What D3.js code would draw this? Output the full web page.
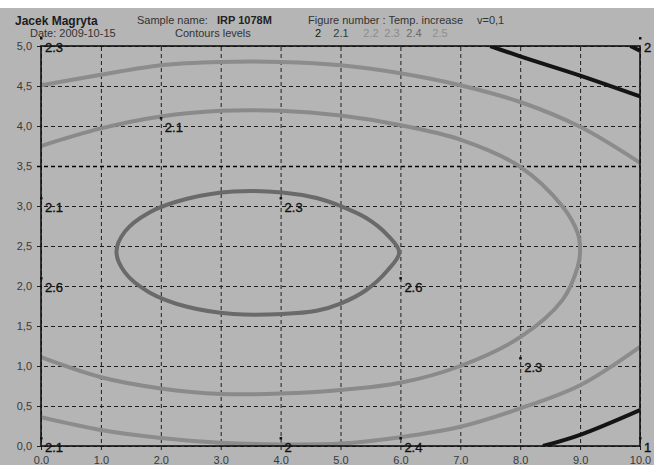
<!DOCTYPE html>
<html>
<head>
<meta charset="utf-8">
<script src="https://cdn.jsdelivr.net/npm/d3@7"></script>
<style>
  html, body { margin: 0; padding: 0; background: #b5b5b5; }
  svg { display: block; font-family: "Liberation Sans", Arial, sans-serif; }
</style>
</head>
<body>
<svg id="chart" width="654" height="465"></svg>
<script>
// ---- Data ----------------------------------------------------------------
const xTicks = [0, 1, 2, 3, 4, 5, 6, 7, 8, 9, 10];
const yTicks = [0, 0.5, 1, 1.5, 2, 2.5, 3, 3.5, 4, 4.5, 5];

const contourLevels = [2, 2.1, 2.2, 2.3, 2.4, 2.5];
const levelColors   = ["#141414", "#3a3a3a", "#8c8c8c", "#8a8a8a", "#6a6a6a", "#8e8e8e"];

// contour pieces: level + [x, y] points
const outerTop = [[0,4.51],[1,4.64],[2,4.76],[3,4.8],[4,4.8],[5,4.76],[6,4.66],[7,4.51],[8,4.3],[9,3.99],[10,3.54]];
const outerBottom = [[0,0.36],[1,0.2],[2,0.1],[3,0.04],[4,0.02],[5,0.03],[6,0.11],[7,0.24],[8,0.47],[9,0.76],[10,1.24]];
const middleRing = [[0,3.75],[1,3.97],[2,4.12],[3,4.19],[4,4.19],[5,4.13],[6,4.01],[7,3.83],[8,3.49],[8.71,2.99],[8.96,2.66],[9.0,2.45],
                    [8.96,2.24],[8.71,1.83],[8,1.36],[7,1.0],[6,0.79],[5,0.7],[4,0.655],[3,0.65],[2,0.72],[1,0.86],[0,1.11]];
const innerRing = [[1.26,2.43],[1.40,2.68],[1.81,2.92],[2.44,3.09],[3.21,3.18],[4.03,3.17],[4.6,3.1],[5.0,3.0],[5.43,2.85],[5.78,2.64],[5.98,2.42],
                   [5.78,2.19],[5.43,1.95],[5.0,1.78],[4.6,1.69],[4.03,1.65],[3.21,1.65],[2.44,1.74],[1.81,1.92],[1.40,2.17]];
const blackTop = [[7.5,5.0],[8.0,4.87],[9.0,4.63],[10,4.37]];
const blackCorner = [[9.84,5.0],[10,4.94]];
const blackBottom = [[8.38,0],[9.0,0.14],[10,0.45]];

const contourPieces = [
  { level: 2.2, points: outerTop,    closed: false },
  { level: 2.2, points: outerBottom, closed: false },
  { level: 2.3, points: middleRing,  closed: false },
  { level: 2.4, points: innerRing,   closed: true  },
  { level: 2,   points: blackTop,    closed: false },
  { level: 2,   points: blackCorner, closed: false },
  { level: 2,   points: blackBottom, closed: false }
];

// value markers: position + text
const markerX    = [0, 2, 0, 0, 4, 6, 8, 6, 4, 0, 10, 10];
const markerY    = [5.1, 4.1, 3.1, 2.1, 3.1, 2.1, 1.1, 0.1, 0.1, 0.1, 0.1, 5.1];
const markerText = ["2.3", "2.1", "2.1", "2.6", "2.3", "2.6", "2.3", "2.4", "2", "2.1", "1", "2"];

// ---- Layout --------------------------------------------------------------
const svg = d3.select("#chart");
const W = 654, H = 465;
const x = d3.scaleLinear().domain([0, 10]).range([41, 640]);
const y = d3.scaleLinear().domain([0, 5]).range([446, 46]);

svg.append("rect").attr("width", W).attr("height", H).attr("fill", "#b5b5b5");
svg.append("rect").attr("width", W).attr("height", 8).attr("fill", "#ffffff");

// ---- Header --------------------------------------------------------------
const hdr = svg.append("g").attr("font-size", 11).attr("fill", "#333");
hdr.append("text").attr("x", 15).attr("y", 25).attr("font-weight", "bold").attr("font-size", 12).attr("fill", "#1c1c1c").text("Jacek Magryta");
hdr.append("text").attr("x", 30).attr("y", 37).text("Date: 2009-10-15");
hdr.append("text").attr("x", 137).attr("y", 24).text("Sample name:");
hdr.append("text").attr("x", 217).attr("y", 24).attr("font-weight", "bold").attr("fill", "#222").text("IRP 1078M");
hdr.append("text").attr("x", 175).attr("y", 37).text("Contours levels");
hdr.append("text").attr("x", 308).attr("y", 24).text("Figure number : Temp. increase");
hdr.append("text").attr("x", 477).attr("y", 24).text("v=0,1");

const legendX = [318, 341, 371, 392, 414, 440];
hdr.selectAll("text.lvl").data(contourLevels).join("text")
  .attr("class", "lvl")
  .attr("x", (d, i) => legendX[i])
  .attr("y", 37)
  .attr("text-anchor", "middle")
  .attr("fill", (d, i) => levelColors[i])
  .text(d => String(d));

// ---- Grid / axes ---------------------------------------------------------
const commaFmt = d3.formatLocale({ decimal: ",", thousands: ".", grouping: [3], currency: ["", ""] }).format(".1f");

const xAxis = svg.append("g").attr("transform", `translate(0,${y(0)})`)
  .call(d3.axisBottom(x).tickValues(xTicks).tickFormat(d3.format(".1f"))
        .tickSizeInner(-(y(0) - y(5))).tickSizeOuter(0).tickPadding(10));
xAxis.select(".domain").remove();
xAxis.selectAll(".tick line").attr("y1", 4).attr("stroke", "#1e1e1e").attr("stroke-dasharray", "4,3");
xAxis.selectAll(".tick text").attr("font-size", 11).attr("fill", "#3a3a3a").attr("font-family", "Liberation Sans, Arial, sans-serif");

const yAxis = svg.append("g").attr("transform", `translate(${x(0)},0)`)
  .call(d3.axisLeft(y).tickValues(yTicks).tickFormat(commaFmt)
        .tickSizeInner(-(x(10) - x(0))).tickSizeOuter(0).tickPadding(9));
yAxis.select(".domain").remove();
yAxis.selectAll(".tick line").attr("x1", -4).attr("stroke", "#1e1e1e").attr("stroke-dasharray", "4,3")
  .filter(d => d === 3.5).attr("stroke", "#000").attr("stroke-width", 1.6);
yAxis.selectAll(".tick text").attr("font-size", 11).attr("fill", "#3a3a3a").attr("font-family", "Liberation Sans, Arial, sans-serif");

// ---- Contours ------------------------------------------------------------
svg.append("clipPath").attr("id", "plotClip").append("rect")
  .attr("x", x(0)).attr("y", y(5)).attr("width", x(10) - x(0)).attr("height", y(0) - y(5));

const lineOpen = d3.line().x(d => x(d[0])).y(d => y(d[1])).curve(d3.curveCatmullRom.alpha(0.5));
const lineClosed = d3.line().x(d => x(d[0])).y(d => y(d[1])).curve(d3.curveCatmullRomClosed.alpha(0.5));

svg.append("g").attr("clip-path", "url(#plotClip)")
  .selectAll("path").data(contourPieces).join("path")
  .attr("d", d => (d.closed ? lineClosed : lineOpen)(d.points))
  .attr("fill", "none")
  .attr("stroke", d => levelColors[contourLevels.indexOf(d.level)])
  .attr("stroke-width", 4)
  .attr("stroke-linecap", "butt");

// ---- Frame ---------------------------------------------------------------
svg.append("rect")
  .attr("x", x(0)).attr("y", y(5))
  .attr("width", x(10) - x(0)).attr("height", y(0) - y(5))
  .attr("fill", "none").attr("stroke", "#111").attr("stroke-width", 1.6);

// ---- Value markers -------------------------------------------------------
const mk = svg.append("g");
markerText.forEach((t, i) => {
  const px = x(markerX[i]), py = y(markerY[i]);
  mk.append("rect").attr("x", px - 1).attr("y", py - 1).attr("width", 2.5).attr("height", 2.5).attr("fill", "#111");
  mk.append("text").attr("x", px + 4).attr("y", py + 14)
    .attr("font-size", 13).attr("fill", "#111")
    .attr("stroke", "#111").attr("stroke-width", 0.35)
    .text(t);
});
</script>
</body>
</html>
